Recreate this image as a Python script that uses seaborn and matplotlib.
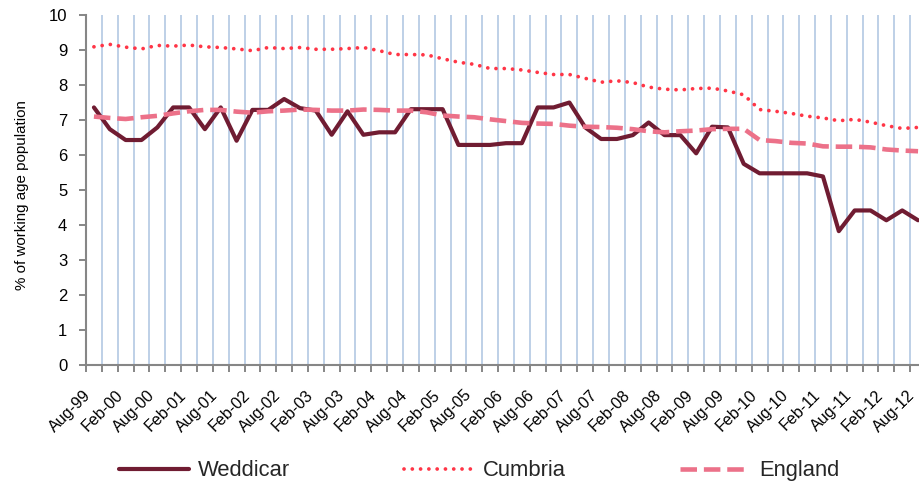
import matplotlib
matplotlib.use('Agg')
import matplotlib.pyplot as plt
import matplotlib.transforms as mtransforms
import seaborn as sns
import numpy as np

# quarterly categories, Aug-99 .. Aug-12
quarters = ['Aug-99', 'Nov-99', 'Feb-00', 'May-00', 'Aug-00', 'Nov-00', 'Feb-01', 'May-01',
            'Aug-01', 'Nov-01', 'Feb-02', 'May-02', 'Aug-02', 'Nov-02', 'Feb-03', 'May-03',
            'Aug-03', 'Nov-03', 'Feb-04', 'May-04', 'Aug-04', 'Nov-04', 'Feb-05', 'May-05',
            'Aug-05', 'Nov-05', 'Feb-06', 'May-06', 'Aug-06', 'Nov-06', 'Feb-07', 'May-07',
            'Aug-07', 'Nov-07', 'Feb-08', 'May-08', 'Aug-08', 'Nov-08', 'Feb-09', 'May-09',
            'Aug-09', 'Nov-09', 'Feb-10', 'May-10', 'Aug-10', 'Nov-10', 'Feb-11', 'May-11',
            'Aug-11', 'Nov-11', 'Feb-12', 'May-12', 'Aug-12']

weddicar = [7.35, 6.73, 6.42, 6.42, 6.78, 7.35, 7.35, 6.73, 7.35, 6.40,
            7.28, 7.28, 7.59, 7.33, 7.26, 6.57, 7.24, 6.57, 6.64, 6.64,
            7.30, 7.30, 7.30, 6.28, 6.28, 6.28, 6.33, 6.33, 7.35, 7.35,
            7.49, 6.78, 6.45, 6.45, 6.56, 6.92, 6.56, 6.56, 6.04, 6.80,
            6.78, 5.74, 5.47, 5.47, 5.47, 5.47, 5.38, 3.82, 4.41, 4.41,
            4.13, 4.41, 4.13]

cumbria = [9.08, 9.15, 9.07, 9.02, 9.12, 9.10, 9.13, 9.08, 9.06, 9.02,
           8.97, 9.06, 9.03, 9.06, 9.01, 9.01, 9.03, 9.06, 8.97, 8.86,
           8.86, 8.85, 8.74, 8.64, 8.58, 8.46, 8.46, 8.42, 8.35, 8.29,
           8.29, 8.18, 8.07, 8.11, 8.06, 7.93, 7.87, 7.85, 7.89, 7.90,
           7.82, 7.71, 7.29, 7.24, 7.18, 7.10, 7.05, 6.97, 7.01, 6.93,
           6.83, 6.75, 6.78]

england = [7.09, 7.05, 7.02, 7.07, 7.11, 7.18, 7.24, 7.28, 7.28, 7.23,
           7.20, 7.24, 7.26, 7.29, 7.28, 7.26, 7.26, 7.29, 7.28, 7.26,
           7.26, 7.21, 7.12, 7.09, 7.07, 7.01, 6.96, 6.91, 6.89, 6.88,
           6.83, 6.80, 6.79, 6.77, 6.73, 6.67, 6.64, 6.67, 6.69, 6.73,
           6.74, 6.74, 6.42, 6.39, 6.34, 6.32, 6.24, 6.23, 6.23, 6.21,
           6.15, 6.12, 6.10]

tick_labels = quarters[::2]

sns.set_style('white')
plt.rcParams['font.family'] = ['Liberation Sans', 'DejaVu Sans']

x = np.arange(len(quarters))

fig = plt.figure(figsize=(9.19, 4.86), dpi=100)
ax = fig.add_axes([0.0936, 0.249, 0.914, 0.721])

sns.lineplot(x=x, y=weddicar, ax=ax, color='#701C32', linewidth=3.0, label='Weddicar')
sns.lineplot(x=x, y=cumbria, ax=ax, color='#FF3546', linewidth=2.7,
             linestyle=(0, (0.01, 2.2)), dash_capstyle='round', label='Cumbria')
sns.lineplot(x=x, y=england, ax=ax, color='#EC7189', linewidth=3.3,
             linestyle=(0, (3.6, 1.5)), label='England')

ax.set_xlim(-0.5, len(quarters) - 0.5)
ax.set_ylim(0, 10)
ax.set_yticks(range(11))

# category boundaries carry the ticks and the blue grid; labels sit on every 2nd category
ax.set_xticks(np.arange(-0.5, len(quarters), 1))
ax.set_xticklabels([])
ax.set_xticks(x[::2], minor=True)
ax.set_xticklabels(tick_labels, minor=True, rotation=45, ha='right')
shift = mtransforms.ScaledTranslation(5 / 100, 0, fig.dpi_scale_trans)
for lab in ax.get_xticklabels(minor=True):
    lab.set_transform(lab.get_transform() + shift)
ax.grid(False)
ax.grid(axis='x', which='major', color='#B9CDE5', linewidth=1.3)

ax.tick_params(axis='x', which='major', length=5, width=1.4, color='#868686', bottom=True)
ax.tick_params(axis='x', which='minor', length=0, pad=16, labelsize=11.6, labelcolor='#000000')
ax.tick_params(axis='y', length=5, width=1.4, color='#868686', left=True,
               pad=8.5, labelsize=12, labelcolor='#000000')

sns.despine(ax=ax)
for s in ['left', 'bottom']:
    ax.spines[s].set_color('#868686')
    ax.spines[s].set_linewidth(1.5)

ax.set_ylabel('% of working age population', fontsize=10.9, color='#000000')
ax.yaxis.set_label_coords(-0.068, 0.485)

ax.legend(loc='center', bbox_to_anchor=(0.521, 0.031), bbox_transform=fig.transFigure,
          ncol=3, frameon=False, fontsize=15.8, handlelength=3.2, handletextpad=0.4,
          columnspacing=5.2)

fig.savefig('out.png', dpi=100)
